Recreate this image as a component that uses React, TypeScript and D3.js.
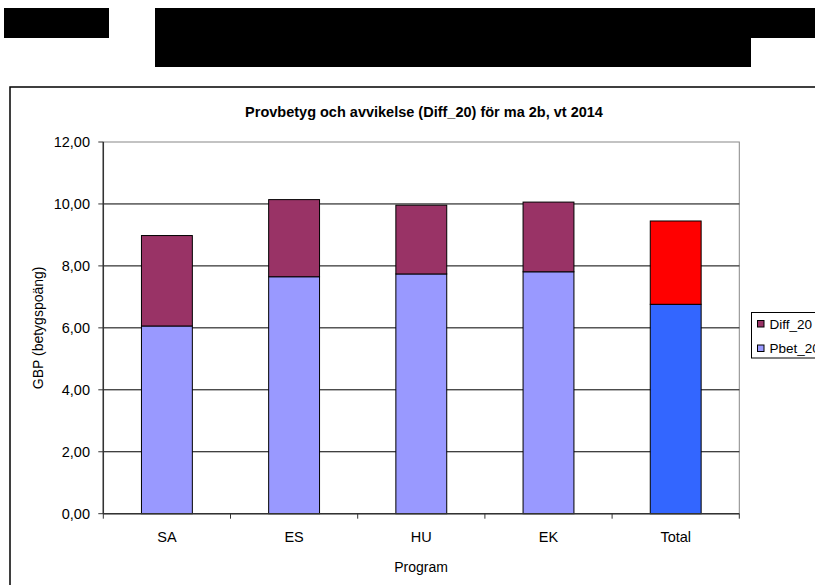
import React from "react";
import * as d3 from "d3";

const categories = ["SA", "ES", "HU", "EK", "Total"];
const pbet20 = [6.06, 7.65, 7.74, 7.81, 6.76];
const diff20 = [2.92, 2.49, 2.22, 2.25, 2.69];
const yTicks = [0, 2, 4, 6, 8, 10, 12];
const seriesNames = ["Diff_20", "Pbet_20"];
const title = "Provbetyg och avvikelse (Diff_20) för ma 2b, vt 2014";
const yLabel = "GBP (betygspoäng)";
const xLabel = "Program";

const W = 815;
const H = 585;
const plotLeft = 103.3;
const plotRight = 739.3;
const plotTop = 142;
const plotBottom = 513.7;

const pbetColor = (c: string) => (c === "Total" ? "#3366FF" : "#9999FF");
const diffColor = (c: string) => (c === "Total" ? "#FF0000" : "#993366");

export default function App() {
  const x = d3
    .scaleBand<string>()
    .domain(categories)
    .range([plotLeft, plotRight])
    .paddingInner(0.6)
    .paddingOuter(0.3);
  const y = d3.scaleLinear().domain([0, 12]).range([plotBottom, plotTop]);
  const step = x.step();
  const font = "'Liberation Sans', Arial, sans-serif";
  const fmt = (v: number) => v.toFixed(2).replace(".", ",");

  return (
    <svg
      width={W}
      height={H}
      style={{ position: "absolute", left: 0, top: 0, background: "#fff" }}
      fontFamily={font}
    >
      {/* redaction blocks */}
      <rect x={4} y={8} width={105} height={30} fill="#000" />
      <rect x={155} y={8} width={660} height={30} fill="#000" />
      <rect x={155} y={37} width={596} height={30} fill="#000" />

      {/* chart border */}
      <rect x={10} y={87} width={W + 20} height={H + 20} fill="none" stroke="#000" strokeWidth={1.5} />

      {/* title */}
      <text x={424} y={117} textAnchor="middle" fontSize={14.5} fontWeight="bold" fill="#000">
        {title}
      </text>

      {/* plot area border */}
      <rect
        x={plotLeft}
        y={plotTop}
        width={plotRight - plotLeft}
        height={plotBottom - plotTop}
        fill="none"
        stroke="#888"
        strokeWidth={1}
      />

      {/* gridlines */}
      {yTicks.slice(1, -1).map((t) => (
        <line key={t} x1={plotLeft} x2={plotRight} y1={y(t)} y2={y(t)} stroke="#000" strokeWidth={1} />
      ))}

      {/* bars */}
      {categories.map((c, i) => {
        const x0 = x(c)!;
        const bw = x.bandwidth();
        const p = pbet20[i];
        const d = diff20[i];
        return (
          <g key={c}>
            <rect x={x0} y={y(p)} width={bw} height={y(0) - y(p)} fill={pbetColor(c)} stroke="#000" strokeWidth={1} />
            <rect x={x0} y={y(p + d)} width={bw} height={y(p) - y(p + d)} fill={diffColor(c)} stroke="#000" strokeWidth={1} />
          </g>
        );
      })}

      {/* y axis */}
      <line x1={plotLeft} x2={plotLeft} y1={plotTop} y2={plotBottom} stroke="#333" strokeWidth={1.5} />
      {yTicks.map((t) => (
        <g key={t}>
          <line x1={plotLeft - 5} x2={plotLeft} y1={y(t)} y2={y(t)} stroke="#333" strokeWidth={1} />
          <text x={90} y={y(t) + 5} textAnchor="end" fontSize={14.5} fill="#000">
            {fmt(t)}
          </text>
        </g>
      ))}

      {/* x axis */}
      <line x1={plotLeft} x2={plotRight} y1={plotBottom} y2={plotBottom} stroke="#333" strokeWidth={1.5} />
      {d3.range(categories.length + 1).map((k) => (
        <line
          key={k}
          x1={plotLeft + k * step}
          x2={plotLeft + k * step}
          y1={plotBottom}
          y2={plotBottom + 5}
          stroke="#333"
          strokeWidth={1}
        />
      ))}
      {categories.map((c) => (
        <text key={c} x={x(c)! + x.bandwidth() / 2} y={542} textAnchor="middle" fontSize={14.5} fill="#000">
          {c}
        </text>
      ))}

      {/* axis titles */}
      <text x={421} y={572} textAnchor="middle" fontSize={14} fill="#000">
        {xLabel}
      </text>
      <text
        transform={`translate(43, ${(plotTop + plotBottom) / 2}) rotate(-90)`}
        textAnchor="middle"
        fontSize={14}
        fill="#000"
      >
        {yLabel}
      </text>

      {/* legend */}
      <rect x={751.5} y={312.5} width={80} height={45.5} fill="#fff" stroke="#000" strokeWidth={1} />
      {seriesNames.map((s, i) => (
        <g key={s}>
          <rect
            x={757.5}
            y={320.5 + i * 24.5}
            width={6.5}
            height={6.5}
            fill={s === "Diff_20" ? "#993366" : "#9999FF"}
            stroke="#000"
            strokeWidth={1}
          />
          <text x={769.5} y={328.5 + i * 24.5} fontSize={13.5} fill="#000">
            {s}
          </text>
        </g>
      ))}
    </svg>
  );
}
